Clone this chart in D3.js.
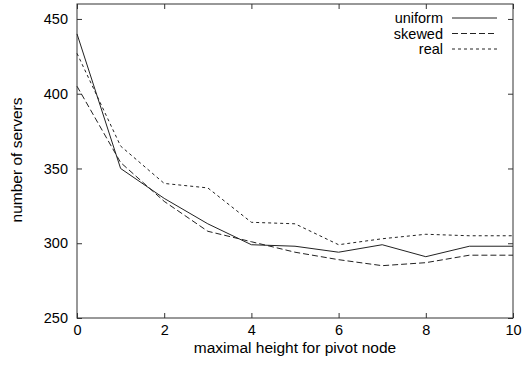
<!DOCTYPE html>
<html>
<head>
<meta charset="utf-8">
<script src="https://cdn.jsdelivr.net/npm/d3@7"></script>
<style>
  body { margin: 0; background: #fff; }
  text { font-family: "Liberation Sans", Arial, sans-serif; font-size: 14.5px; fill: #000; }
  .title { font-size: 15.5px; }
</style>
</head>
<body>
<div id="chart"></div>
<script>
// Data
const heights = [0, 1, 2, 3, 4, 5, 6, 7, 8, 9, 10];
const uniform = [440, 350, 330, 313, 299, 298, 294, 299, 291, 298, 298];
const skewed  = [405, 354, 328, 308, 301, 294, 289, 285, 287, 292, 292];
const real    = [427, 365, 340, 337, 314, 313, 299, 303, 306, 305, 305];
const xTicks = [0, 2, 4, 6, 8, 10];
const yTicks = [250, 300, 350, 400, 450];
const seriesNames = ["uniform", "skewed", "real"];

const margin = { top: 4, right: 10, bottom: 51, left: 77 };
const W = 523, H = 369;
const width = W - margin.left - margin.right;
const height = H - margin.top - margin.bottom;

const svg = d3.select("#chart").append("svg")
    .attr("width", W)
    .attr("height", H)
    .append("g")
    .attr("transform", `translate(${margin.left},${margin.top})`);

const x = d3.scaleLinear().domain([0, 10]).range([0, width]);
const y = d3.scaleLinear().domain([250, 460]).range([height, 0]);

const frameColor = "#333";

// axes: inward ticks, mirrored on top and right
function styleAxis(g) {
    g.selectAll(".domain").remove();
    g.selectAll("line").attr("stroke", frameColor);
}

svg.append("g")
    .attr("transform", `translate(0,${height})`)
    .call(d3.axisBottom(x).tickValues(xTicks).tickSizeInner(-5).tickSizeOuter(0).tickPadding(7))
    .call(styleAxis)
    .selectAll("text").style("font-size", "14.5px").attr("fill", "#000").attr("font-family", null);

svg.append("g")
    .call(d3.axisTop(x).tickValues(xTicks).tickSizeInner(-5).tickSizeOuter(0).tickFormat(""))
    .call(styleAxis);

svg.append("g")
    .call(d3.axisLeft(y).tickValues(yTicks).tickSizeInner(-5).tickSizeOuter(0).tickPadding(9))
    .call(styleAxis)
    .selectAll("text").style("font-size", "14.5px").attr("fill", "#000").attr("font-family", null);

svg.append("g")
    .attr("transform", `translate(${width},0)`)
    .call(d3.axisRight(y).tickValues(yTicks).tickSizeInner(-5).tickSizeOuter(0).tickFormat(""))
    .call(styleAxis);

// frame
svg.append("rect")
    .attr("x", 0).attr("y", 0)
    .attr("width", width).attr("height", height)
    .attr("fill", "none")
    .attr("stroke", frameColor)
    .attr("stroke-width", 1);

// axis labels
svg.append("text")
    .attr("class", "title")
    .attr("x", width / 2)
    .attr("y", height + 34.5)
    .attr("text-anchor", "middle")
    .text("maximal height for pivot node");

svg.append("text")
    .attr("class", "title")
    .attr("transform", "rotate(-90)")
    .attr("x", -(height / 2) + 1)
    .attr("y", -55.5)
    .attr("text-anchor", "middle")
    .text("number of servers");

// lines
const dashes = ["none", "6,3", "3,3"];
const seriesData = [uniform, skewed, real];
const line = d3.line()
    .x((d, i) => x(heights[i]))
    .y(d => y(d));

seriesData.forEach((vals, k) => {
    svg.append("path")
        .datum(vals)
        .attr("d", line)
        .attr("fill", "none")
        .attr("stroke", "#222")
        .attr("stroke-width", 1)
        .attr("stroke-dasharray", dashes[k]);
});

// legend
const legend = svg.append("g").attr("transform", "translate(366,14)");
seriesNames.forEach((name, k) => {
    const row = legend.append("g").attr("transform", `translate(0,${k * 15.5})`);
    row.append("text")
        .attr("x", 0)
        .attr("y", 5)
        .attr("text-anchor", "end")
        .text(name);
    row.append("line")
        .attr("x1", 9).attr("x2", 54)
        .attr("y1", 0).attr("y2", 0)
        .attr("stroke", "#222")
        .attr("stroke-width", 1)
        .attr("stroke-dasharray", dashes[k]);
});
</script>
</body>
</html>
